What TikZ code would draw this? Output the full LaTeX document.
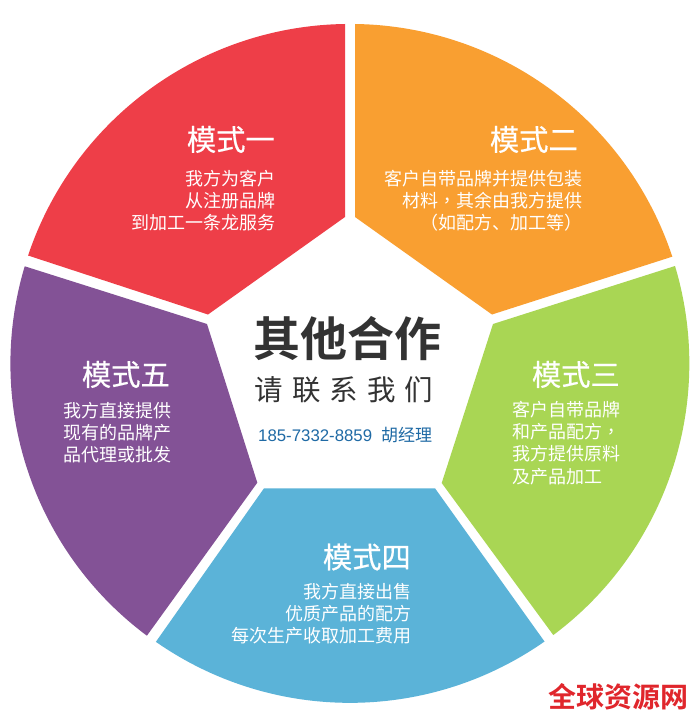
\documentclass[tikz,border=0pt]{standalone}
\usepackage{fontspec}
\setmainfont{Noto Sans CJK SC}
\newfontfamily\bfcjk{Noto Sans CJK SC Bold}
\newfontfamily\headf[FakeBold=0.5]{Noto Sans CJK SC}
\newfontfamily\tcf{Noto Sans CJK TC}
\newfontfamily\latf{Liberation Sans}
\definecolor{cr}{HTML}{EE3E48}
\definecolor{co}{HTML}{F99F31}
\definecolor{cg}{HTML}{A9D654}
\definecolor{cb}{HTML}{5BB3D8}
\definecolor{cp}{HTML}{835296}
\definecolor{ink}{HTML}{333333}
\definecolor{tel}{HTML}{1F6AA5}
\definecolor{wm}{HTML}{E0262C}
\tikzset{x=1pt,y=-1pt,
 head/.style={font=\headf\fontsize{29.3}{29.3}\selectfont,text=white,inner sep=0pt,anchor=east},
 body/.style={font=\fontsize{18}{22.2}\selectfont,text=white,align=right,inner sep=0pt,anchor=north east}}
\begin{document}
\begin{tikzpicture}
\useasboundingbox (0,0) rectangle (700,722);
\fill[white] (0,0) rectangle (700,722);
\fill[cr] (345,24) arc[start angle=-90.8,end angle=-161.5,radius=339.2] -- (208,314.5) -- (345,217) -- cycle;
\fill[co] (355,24) arc[start angle=-89.2,end angle=-18.3,radius=339.2] -- (492,314.5) -- (355,217) -- cycle;
\fill[cg] (675,266) arc[start angle=-16.7,end angle=53.2,radius=339.2] -- (441.7,483) -- (493,324) -- cycle;
\fill[cb] (544.5,641.5) arc[start angle=55,end angle=124.9,radius=339.2] -- (264,488.3) -- (435,488.3) -- cycle;
\fill[cp] (146.9,635.7) arc[start angle=126.7,end angle=196.7,radius=339.2] -- (207,324) -- (257.3,482.7) -- cycle;
\node[head] (m1) at (275,139.5) {模式一};
\node[body] (b1) at (276,170) {我方为客户\\从注册品牌\\到加工一条龙服务};
\node[head] (m2) at (578,139.5) {模式二};
\node[body] (b2) at (583,170) {客户自带品牌并提供包装\\材料{\tcf ，}其余由我方提供\\（如配方、加工等）};
\node[head] (m3) at (620,374.5) {模式三};
\node[body,align=left] (b3) at (620.5,401) {客户自带品牌\\和产品配方{\tcf ，}\\我方提供原料\\及产品加工};
\node[head] (m4) at (411,557) {模式四};
\node[body] (b4) at (412,583) {我方直接出售\\优质产品的配方\\每次生产收取加工费用};
\node[head] (m5) at (170,374.5) {模式五};
\node[body] (b5) at (171.5,402) {我方直接提供\\现有的品牌产\\品代理或批发};
\node[font=\bfcjk\fontsize{47}{47}\selectfont,text=ink,inner sep=0pt] (t1) at (347.5,339) {其他合作};
\node[font=\fontsize{28.5}{28.5}\selectfont,text=ink,inner sep=0pt] (t2) at (344,390) {请\hspace{9pt}联\hspace{9pt}系\hspace{9pt}我\hspace{9pt}们};
\node[font=\fontsize{17}{17}\selectfont,text=tel,inner sep=0pt,anchor=west] (t3) at (258,435) {{\latf\fontsize{16.8}{17}\selectfont 185-7332-8859}\hspace{9pt}胡经理};
\node[font=\bfcjk\fontsize{28}{28}\selectfont,text=wm,inner sep=0pt] (wm) at (618.5,697) {全球资源网};
\end{tikzpicture}
\end{document}
